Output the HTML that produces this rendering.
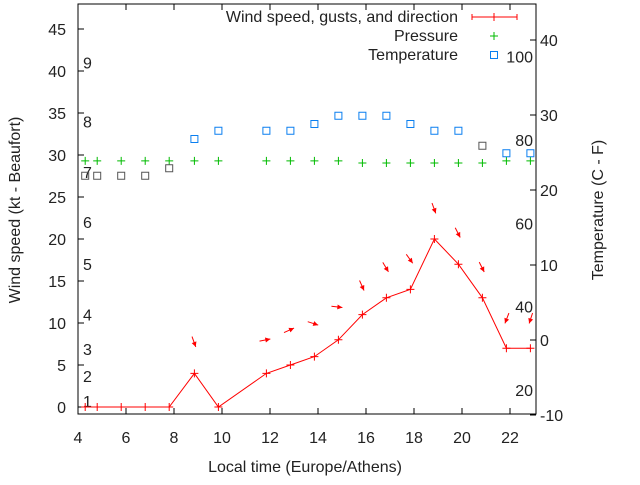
<!DOCTYPE html>
<html><head><meta charset="utf-8"><style>
body{margin:0;background:#fff}
svg text{font-family:"Liberation Sans",sans-serif;font-size:16px;fill:#222}
</style></head><body>
<svg id="c" width="640" height="480" xmlns="http://www.w3.org/2000/svg"></svg>
<script>
const times=[4.3,4.8,5.8,6.8,7.8,8.85,9.85,11.85,12.85,13.85,14.85,15.85,16.85,17.85,18.85,19.85,20.85,21.85,22.85];
const wind=[0,0,0,0,0,4,0,4,5,6,8,11,13,14,20,17,13,7,7];
const gust=[null,null,null,null,null,7.6,null,8,9.2,9.9,11.9,14.3,16.5,17.5,23.5,20.6,16.5,10.4,10.4];
const windDir=[null,null,null,null,null,340,null,259,246,288,276,336,329,324,340,333,333,21,18];
const pressure=[29.3,29.3,29.3,29.3,29.3,29.3,29.3,29.3,29.3,29.3,29.3,29.05,29.05,29.05,29.05,29.05,29.05,29.3,29.3];
const tempC=[21.9,21.9,21.9,21.9,22.9,26.8,27.9,27.9,27.9,28.8,29.9,29.9,29.9,28.8,27.9,27.9,25.9,24.9,24.9];
const tempGray=[1,1,1,1,1,0,0,0,0,0,0,0,0,0,0,0,1,0,0];
const xTicks=[4,6,8,10,12,14,16,18,20,22];
const yTicks=[0,5,10,15,20,25,30,35,40,45];
const y2Ticks=[-10,0,10,20,30,40];
const beaufortLabels=["1","2","3","4","5","6","7","8","9"];
const beaufortY=[0.7,3.7,6.9,11,17,22,28,34,41];
const fLabels=[20,40,60,80,100];

const L=78,R=536,T=4,B=414;
const X=v=>L+(v-4)*24;
const Y=v=>407-v*8.4;
const Y2=v=>340-v*7.5;
const F2C=f=>(f-32)*5/9;
const svg=document.getElementById('c');
const NS='http://www.w3.org/2000/svg';
function mk(tag,attrs,parent){const e=document.createElementNS(NS,tag);for(const k in attrs)e.setAttribute(k,attrs[k]);(parent||svg).appendChild(e);return e;}
function txt(s,x,y,anchor,name,extra){const t=mk('text',Object.assign({x:x,y:y,'text-anchor':anchor||'middle'},extra||{}));t.textContent=s;return t;}

let fr=mk('rect',{x:L,y:T,width:R-L,height:B-T,fill:'none',stroke:'#000','stroke-width':1});


xTicks.forEach(v=>{
  mk('line',{x1:X(v),y1:B,x2:X(v),y2:B-6,stroke:'#000'});
  mk('line',{x1:X(v),y1:T,x2:X(v),y2:T+6,stroke:'#000'});
  txt(String(v),X(v),443,'middle','x-tick-label');
});
yTicks.forEach(v=>{
  mk('line',{x1:L,y1:Y(v),x2:L+6,y2:Y(v),stroke:'#000'});
  txt(String(v),66,Y(v)+6,'end','y-tick-label');
});
y2Ticks.forEach(v=>{
  mk('line',{x1:R,y1:Y2(v),x2:R-6,y2:Y2(v),stroke:'#000'});
  txt(String(v),540,Y2(v)+6,'start','y2-tick-label');
});
beaufortLabels.forEach((s,i)=>txt(s,83,Y(beaufortY[i])+6,'start','beaufort-label'));
fLabels.forEach(f=>txt(String(f),533,Y2(F2C(f))+6,'end','fahrenheit-label'));

txt('Local time (Europe/Athens)',305,472,'middle','x-axis-title');
txt('Wind speed (kt - Beaufort)',20,210,'middle','y-axis-title',{transform:'rotate(-90 20 210)'});
txt('Temperature (C - F)',603,210,'middle','y2-axis-title',{transform:'rotate(-90 603 210)'});

let pts=times.map((t,i)=>X(t)+','+Y(wind[i])).join(' ');
let wl=mk('polyline',{points:pts,fill:'none',stroke:'#f00','stroke-width':1});

times.forEach((t,i)=>{
  const g=mk('path',{d:`M${X(t)-4},${Y(wind[i])}h8M${X(t)},${Y(wind[i])-4}v8`,stroke:'#f00'});
  
});
times.forEach((t,i)=>{
  if(gust[i]==null)return;
  const a=(windDir[i]+180)*Math.PI/180, dx=Math.sin(a), dy=-Math.cos(a);
  const hx=X(t)+dx*4, hy=Y(gust[i])+dy*4, tx=hx-dx*11, ty=hy-dy*11;
  const px=-dy, py=dx;
  const g=mk('g',{});
  
  mk('line',{x1:tx,y1:ty,x2:hx,y2:hy,stroke:'#f00','stroke-width':1},g);
  mk('polygon',{points:`${hx},${hy} ${hx-dx*5+px*2.5},${hy-dy*5+py*2.5} ${hx-dx*5-px*2.5},${hy-dy*5-py*2.5}`,fill:'#f00'},g);
});
times.forEach((t,i)=>{
  const g=mk('path',{d:`M${X(t)-4},${Y(pressure[i])}h8M${X(t)},${Y(pressure[i])-4}v8`,stroke:'#0b0'});
  
});
times.forEach((t,i)=>{
  const r=mk('rect',{x:X(t)-3.5,y:Y2(tempC[i])-3.5,width:7,height:7,fill:'none',stroke:tempGray[i]?'#555':'#0a7ff0','stroke-width':1});
  
});
const lg=mk('g',{});
txt('Wind speed, gusts, and direction',458,22,'end','legend-label-wind');
mk('path',{d:'M472,17h45M472,14v6M517,14v6M494,13v8',stroke:'#f00'},lg);
txt('Pressure',458,41,'end','legend-label-pressure');
mk('path',{d:'M490,36h8M494,32v8',stroke:'#0b0'},lg);
txt('Temperature',458,60,'end','legend-label-temperature');
mk('rect',{x:490.5,y:51.5,width:7,height:7,fill:'none',stroke:'#0a7ff0'},lg);
</script>
</body></html>
